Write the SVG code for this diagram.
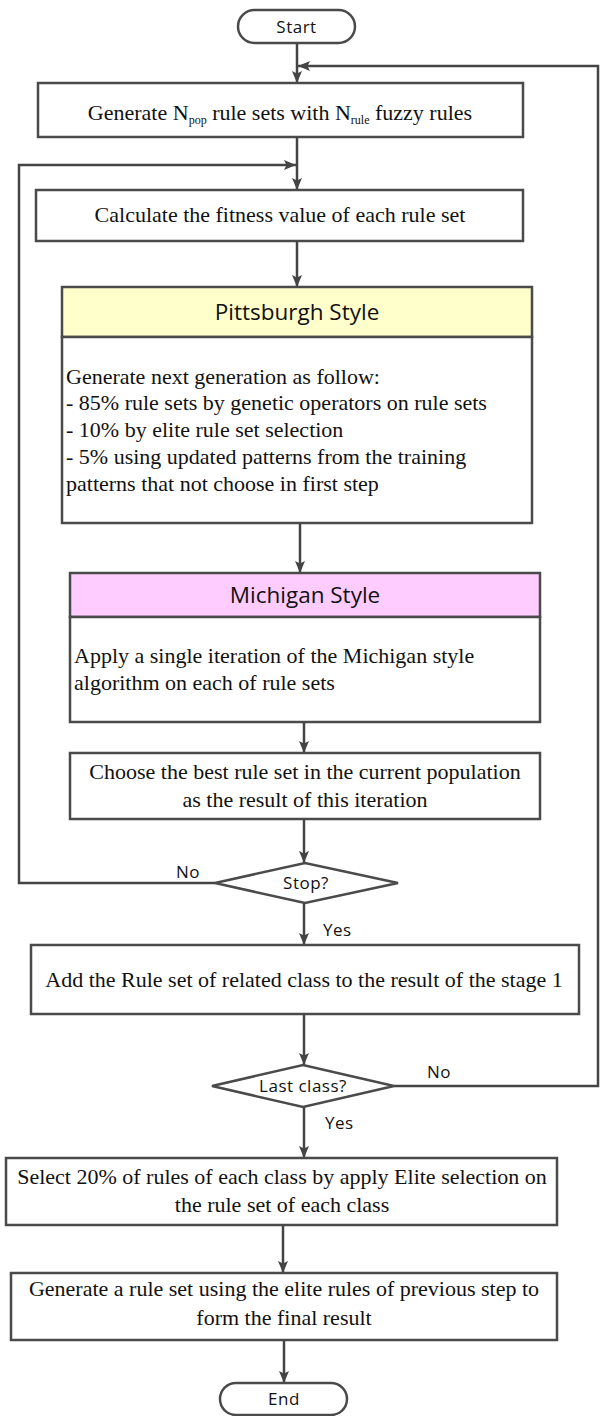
<svg xmlns="http://www.w3.org/2000/svg" width="600" height="1416" viewBox="0 0 600 1416">
  <style>
    .box { fill: #ffffff; stroke: #4a4a4a; stroke-width: 2.5; }
    .hdr-p { fill: #ffffcc; stroke: #4a4a4a; stroke-width: 2.5; }
    .hdr-m { fill: #ffccff; stroke: #4a4a4a; stroke-width: 2.5; }
    .term { fill: #ffffff; stroke: #4a4a4a; stroke-width: 2.5; }
    .edge { fill: none; stroke: #444444; stroke-width: 2.5; }
    .serif { font-family: "Liberation Serif", "Times New Roman", serif; font-size: 22px; fill: #111111; }
    .sans { font-family: "Open Sans", "Noto Sans", sans-serif; fill: #111111; }
    .title { font-size: 22.5px; }
    .lbl { font-size: 17px; letter-spacing: 0.5px; }
    .mid { text-anchor: middle; }
  </style>
  <defs>
    <marker id="arrow" viewBox="0 0 12 10" refX="12" refY="5" markerWidth="12" markerHeight="10" markerUnits="userSpaceOnUse" orient="auto">
      <path d="M0,0 L12,5 L0,10 L2.5,5 z" fill="#444444"/>
    </marker>
  </defs>

  <!-- connectors and their branch labels -->
  <g id="connectors">
    <path class="edge" d="M297,43 V83" marker-end="url(#arrow)"/>
    <path class="edge" d="M394,1086 H598 V66 H298" marker-end="url(#arrow)"/>
    <path class="edge" d="M297,137 V190" marker-end="url(#arrow)"/>
    <path class="edge" d="M215,883 H19 V165 H296" marker-end="url(#arrow)"/>
    <path class="edge" d="M297,241 V287" marker-end="url(#arrow)"/>
    <path class="edge" d="M300,523 V573" marker-end="url(#arrow)"/>
    <path class="edge" d="M304,722 V753" marker-end="url(#arrow)"/>
    <path class="edge" d="M304,819 V863" marker-end="url(#arrow)"/>
    <path class="edge" d="M304,903 V945" marker-end="url(#arrow)"/>
    <path class="edge" d="M304,1014 V1065" marker-end="url(#arrow)"/>
    <path class="edge" d="M304,1107 V1158" marker-end="url(#arrow)"/>
    <path class="edge" d="M283,1225 V1273" marker-end="url(#arrow)"/>
    <path class="edge" d="M284,1340 V1383" marker-end="url(#arrow)"/>
    <text class="sans lbl" x="176" y="878">No</text>
    <text class="sans lbl" x="323" y="936">Yes</text>
    <text class="sans lbl" x="427" y="1078">No</text>
    <text class="sans lbl" x="325" y="1129">Yes</text>
  </g>

  <g id="start">
    <rect class="term" x="238" y="10" width="117" height="33" rx="16.5"/>
    <text class="sans lbl mid" x="296.5" y="33">Start</text>
  </g>

  <g id="generate-population">
    <rect class="box" x="38" y="83" width="485" height="54"/>
    <text class="serif mid" x="280" y="120">Generate N<tspan font-size="12" dy="4">pop</tspan><tspan dy="-4"> rule sets with N</tspan><tspan font-size="12" dy="4">rule</tspan><tspan dy="-4"> fuzzy rules</tspan></text>
  </g>

  <g id="fitness">
    <rect class="box" x="36" y="190" width="487" height="51"/>
    <text class="serif mid" x="280" y="222">Calculate the fitness value of each rule set</text>
  </g>

  <g id="pittsburgh">
    <rect class="hdr-p" x="62" y="287" width="470" height="50"/>
    <text class="sans title mid" x="297" y="320">Pittsburgh Style</text>
    <rect class="box" x="62" y="337" width="470" height="186"/>
    <text class="serif" x="66" y="384">Generate next generation as follow:</text>
    <text class="serif" x="66" y="410">- 85% rule sets by genetic operators on rule sets</text>
    <text class="serif" x="66" y="437">- 10% by elite rule set selection</text>
    <text class="serif" x="66" y="464">- 5% using updated patterns from the training</text>
    <text class="serif" x="66" y="491">patterns that not choose in first step</text>
  </g>

  <g id="michigan">
    <rect class="hdr-m" x="70" y="573" width="470" height="44"/>
    <text class="sans title mid" x="305" y="603">Michigan Style</text>
    <rect class="box" x="70" y="617" width="470" height="105"/>
    <text class="serif" x="74" y="663">Apply a single iteration of the Michigan style</text>
    <text class="serif" x="74" y="690">algorithm on each of rule sets</text>
  </g>

  <g id="choose-best">
    <rect class="box" x="70" y="753" width="470" height="66"/>
    <text class="serif mid" x="305" y="779">Choose the best rule set in the current population</text>
    <text class="serif mid" x="305" y="807">as the result of this iteration</text>
  </g>

  <g id="stop">
    <polygon class="box" points="215,883 305,863 398,883 305,903"/>
    <text class="sans lbl mid" x="306" y="889">Stop?</text>
  </g>

  <g id="add-rule-set">
    <rect class="box" x="31" y="945" width="548" height="69"/>
    <text class="serif mid" x="304" y="987">Add the Rule set of related class to the result of the stage 1</text>
  </g>

  <g id="last-class">
    <polygon class="box" points="212,1086 303,1065 394,1086 303,1107"/>
    <text class="sans lbl mid" x="303" y="1092">Last class?</text>
  </g>

  <g id="elite-selection">
    <rect class="box" x="6" y="1158" width="551" height="67"/>
    <text class="serif mid" x="282" y="1184">Select 20% of rules of each class by apply Elite selection on</text>
    <text class="serif mid" x="282" y="1212">the rule set of each class</text>
  </g>

  <g id="final-rule-set">
    <rect class="box" x="11" y="1273" width="546" height="67"/>
    <text class="serif mid" x="284" y="1296">Generate a rule set using the elite rules of previous step to</text>
    <text class="serif mid" x="284" y="1325">form the final result</text>
  </g>

  <g id="end">
    <rect class="term" x="220" y="1383" width="127" height="32" rx="16"/>
    <text class="sans lbl mid" x="284" y="1405">End</text>
  </g>
</svg>
